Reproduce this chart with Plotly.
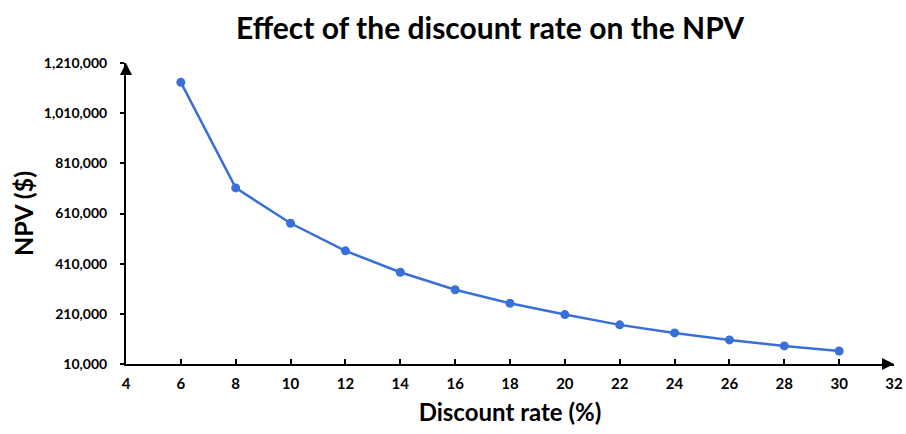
import plotly.graph_objects as go

# Discount rate (%) and resulting net present value ($)
discount_rate = [6, 8, 10, 12, 14, 16, 18, 20, 22, 24, 26, 28, 30]
npv = [1133000, 712000, 571000, 461000, 376000, 306000, 252000,
       207000, 166000, 134000, 106000, 82000, 62000]

x_ticks = [4, 6, 8, 10, 12, 14, 16, 18, 20, 22, 24, 26, 28, 30, 32]
y_ticks = [10000, 210000, 410000, 610000, 810000, 1010000, 1210000]
y_tick_text = ["10,000", "210,000", "410,000", "610,000", "810,000",
               "1,010,000", "1,210,000"]

FONT = "Lato"
LINE_COLOR = "#3a6fd6"

fig = go.Figure()
fig.add_trace(go.Scatter(
    x=discount_rate, y=npv, mode="lines+markers",
    line=dict(color=LINE_COLOR, width=2.5),
    marker=dict(color=LINE_COLOR, size=9),
    showlegend=False,
))

fig.update_layout(
    width=906, height=434,
    margin=dict(l=126, r=12, t=63, b=70),
    paper_bgcolor="white", plot_bgcolor="white",
    font=dict(family=FONT, color="black"),
    title=dict(
        text="<b>Effect of the discount rate on the NPV</b>",
        x=0.541, xanchor="center", y=0.935, yanchor="middle",
        font=dict(family=FONT, size=30, color="black"),
    ),
    xaxis=dict(
        range=[4, 32], tickvals=x_ticks, automargin=False,
        ticktext=[f"<b>{v}</b>" for v in x_ticks],
        showgrid=False, zeroline=False,
        showline=True, linecolor="black", linewidth=2,
        ticks="inside", ticklen=5, tickwidth=1.5, tickcolor="black",
        tickfont=dict(family=FONT, size=15, color="black"),
        ticklabelstandoff=5,
        title=dict(text="<b>Discount rate (%)</b>", standoff=13,
                   font=dict(family=FONT, size=24, color="black")),
    ),
    yaxis=dict(
        range=[10000, 1210000], tickvals=y_ticks, automargin=False,
        ticktext=[f"<b>{t}</b>" for t in y_tick_text],
        showgrid=False, zeroline=False,
        showline=True, linecolor="black", linewidth=2,
        ticks="outside", ticklen=4, tickwidth=1.5, tickcolor="black",
        tickfont=dict(family=FONT, size=14, color="black"),
        ticklabelstandoff=10,
        title=dict(text="<b>NPV ($)</b>", standoff=3,
                   font=dict(family=FONT, size=25, color="black")),
    ),
)

# Arrowheads at the ends of both axes
fig.add_annotation(
    x=1.0, y=0, xref="paper", yref="paper",
    ax=-12, ay=0, axref="pixel", ayref="pixel",
    showarrow=True, arrowhead=2, arrowsize=1.2, arrowwidth=2,
    arrowcolor="black", text="",
)
fig.add_annotation(
    x=0, y=1.0, xref="paper", yref="paper",
    ax=0, ay=12, axref="pixel", ayref="pixel",
    showarrow=True, arrowhead=2, arrowsize=1.2, arrowwidth=2,
    arrowcolor="black", text="",
)

fig.write_html("out.html")
